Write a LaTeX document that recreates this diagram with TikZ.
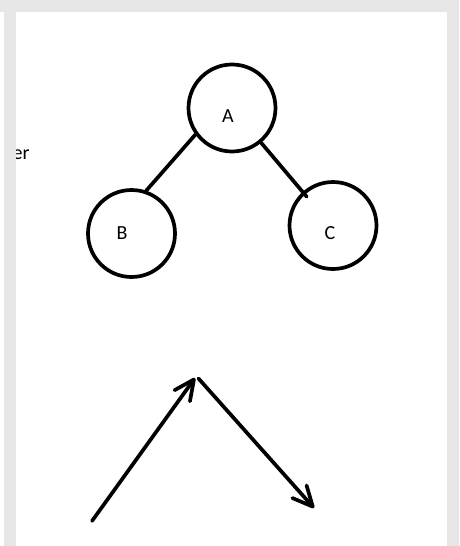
\documentclass[tikz,border=0pt]{standalone}
\usepackage{fontspec}
\setmainfont{Carlito}
\usetikzlibrary{arrows.meta,calc}
\definecolor{framegray}{HTML}{E6E6E6}
\begin{document}
\begin{tikzpicture}[x=1pt,y=-1pt,
  vertex/.style={circle,draw=black,line width=3.7pt,minimum size=87pt,inner sep=0pt},
  lbl/.style={font=\fontsize{20}{24}\selectfont,inner sep=0pt},
  edge/.style={line width=3.7pt,line cap=round},
  arr/.style={line width=3.7pt,line cap=round,line join=round,-{Straight Barb[length=20pt,width=19pt,line width=3.7pt,round]}}]
\useasboundingbox (0,0) rectangle (459,546);
\fill[white] (0,0) rectangle (459,546);
% clipped side text
\node[lbl,anchor=base west] (er) at (12.5,159) {er};
% frame
\fill[framegray] (4,12) rectangle (16,546);
\fill[framegray] (0,0) rectangle (459,12);
\fill[framegray] (447,0) rectangle (459,546);
% nodes
\node[vertex] (A) at (232,108) {};
\node[vertex] (B) at (131.5,233.5) {};
\node[vertex] (C) at (333,225.5) {};
\node[lbl] (la) at (228,116) {A};
\node[lbl] (lb) at (122,233) {B};
\node[lbl] (lc) at (330,233) {C};
\draw[edge] (A.216) -- (B.71);
\draw[edge] (A.-50) -- ($(C.center)+(-26.3,-28.8)$);
% arrows
\coordinate (p1) at (92,521);
\coordinate (p2) at (195,378);
\coordinate (p3) at (198.5,378.5);
\coordinate (p4) at (314,508);
\draw[arr] (p1) -- (p2);
\draw[arr] (p3) -- (p4);
\end{tikzpicture}
\end{document}
